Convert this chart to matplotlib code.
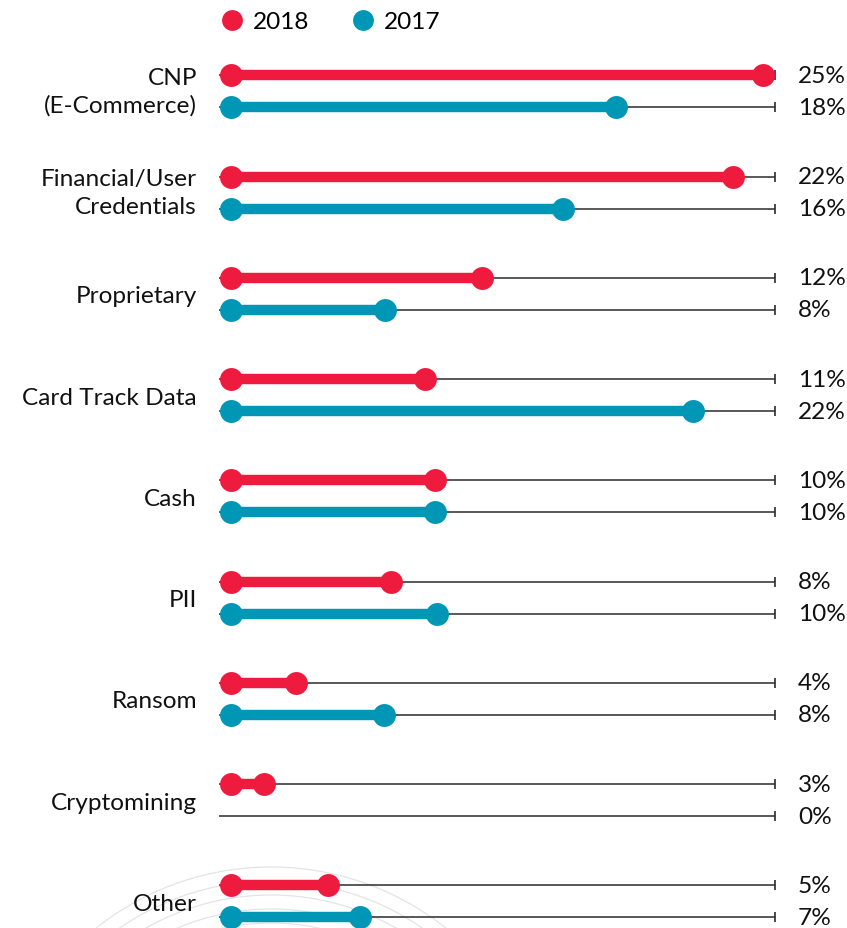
import matplotlib
matplotlib.use("Agg")
import matplotlib.pyplot as plt
from matplotlib.lines import Line2D
import matplotlib.patches as mpatches

# ---- data ----
categories = ["CNP\n(E-Commerce)", "Financial/User\nCredentials", "Proprietary",
              "Card Track Data", "Cash", "PII", "Ransom", "Cryptomining", "Other"]
labels_2018 = ["25%", "22%", "12%", "11%", "10%", "8%", "4%", "3%", "5%"]
labels_2017 = ["18%", "16%", "8%", "22%", "10%", "10%", "8%", "0%", "7%"]
# bar lengths as drawn in the picture (percent units)
values_2018 = [25.0, 23.6, 11.8, 9.1, 9.6, 7.5, 3.05, 1.55, 4.56]
values_2017 = [18.1, 15.6, 7.24, 21.7, 9.6, 9.7, 7.2, 0.0, 6.06]
track_start = -0.56
track_end = 25.56
series_names = ["2018", "2017"]

RED = "#EE1B3F"
TEAL = "#0096B5"
DARK = "#2b2b2b"
FONT = ["Lato", "DejaVu Sans"]
plt.rcParams["font.family"] = FONT
FS = 17.6

W, H = 847, 929
fig = plt.figure(figsize=(W / 100, H / 100), dpi=100)

# decorative background arcs
bg = fig.add_axes([0, 0, 1, 1], zorder=0)
bg.set_xlim(0, W)
bg.set_ylim(H, 0)
bg.axis("off")
for k in range(9):
    bg.add_patch(mpatches.Circle((271, 1149), 281 - 14 * k, fill=False,
                                 ec="#e4e4e4", lw=0.9))

px_per_unit = 21.28
gap = 101.25
top = 92.3
ax = fig.add_axes([219 / W, 0, 1 - 219 / W, 1], zorder=1)
ax.patch.set_alpha(0)
ax.set_xlim(-12 / px_per_unit, (W - 231) / px_per_unit)
ax.set_ylim((H - top) / gap, -top / gap)
off = 16 / gap

for i in range(len(categories)):
    for v, lab, col, dy in ((values_2018[i], labels_2018[i], RED, -off),
                            (values_2017[i], labels_2017[i], TEAL, off)):
        y = i + dy
        ax.plot([track_start, track_end], [y, y], color=DARK, lw=1.1, zorder=1,
                solid_capstyle="butt")
        ax.plot([track_end], [y], marker="|", ms=7, mew=1.2, color=DARK, zorder=1)
        if v > 0:
            ax.plot([0, v], [y, y], color=col, lw=7.5, solid_capstyle="butt",
                    marker="o", ms=16.5, markeredgewidth=0, zorder=3)
        ax.text(26.64, y, lab, va="center", ha="left", fontsize=FS, color="#111111")

ax.set_yticks(range(len(categories)))
ax.set_yticklabels(categories, fontsize=FS, color="#111111")
for t in ax.get_yticklabels():
    t.set_linespacing(1.36)
    if "\n" in t.get_text():
        t.set_va("center")
ax.tick_params(axis="y", length=0, pad=15.8)
ax.set_xticks([])
for s in ax.spines.values():
    s.set_visible(False)

handles = [Line2D([], [], marker="o", ls="", color=c, ms=15, markeredgewidth=0)
           for c in (RED, TEAL)]
fig.legend(handles, series_names, loc="upper left", ncol=2, frameon=False,
           bbox_to_anchor=(221 / W, 1 - 12 / H), borderaxespad=0, borderpad=0,
           handlelength=0.9, handletextpad=0.4, columnspacing=1.75,
           prop={"family": FONT, "size": FS})

fig.savefig("out.png", dpi=100, facecolor="white")
